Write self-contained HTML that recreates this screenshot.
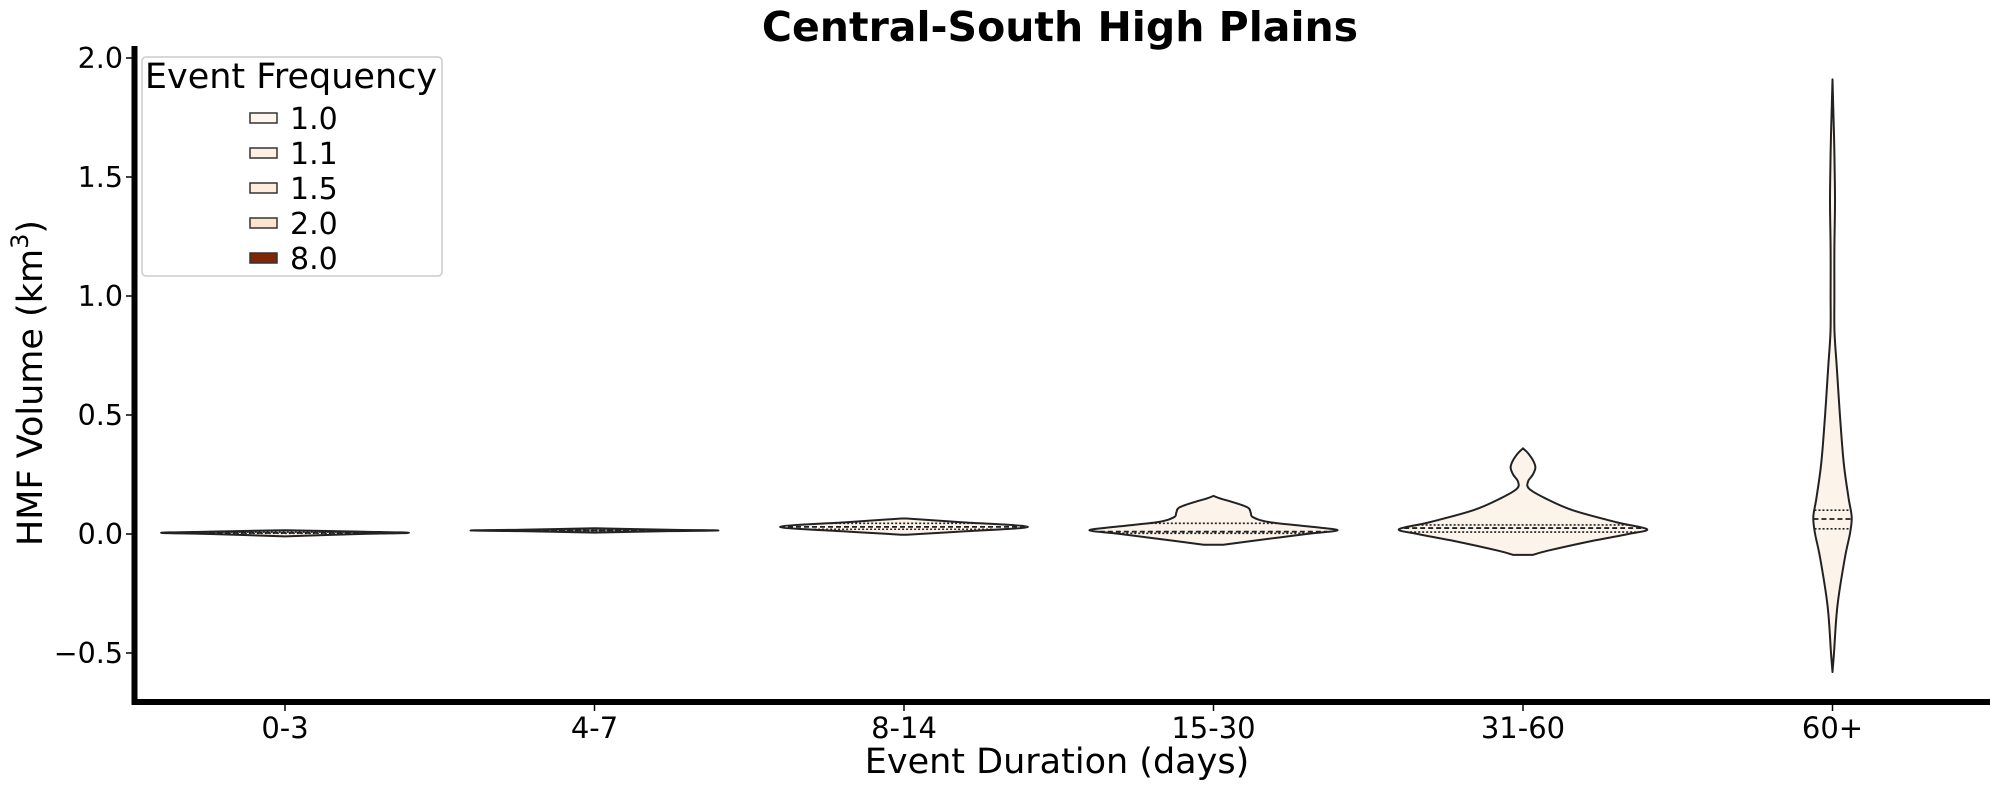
<!DOCTYPE html>
<html><head><meta charset="utf-8"><style>
html,body{margin:0;padding:0;background:#fff;}
svg{display:block;font-family:"DejaVu Sans","Liberation Sans",sans-serif;}
</style></head><body>
<svg id="chart" width="1990" height="789" viewBox="0 0 1990 789">
<text x="1060" y="41" text-anchor="middle" font-size="41" font-weight="bold">Central-South High Plains</text>
<g id="plot"></g>
<text x="1057" y="773" text-anchor="middle" font-size="35">Event Duration (days)</text>
<text transform="translate(42,383) rotate(-90)" text-anchor="middle" font-size="35">HMF Volume (km<tspan font-size="24" dy="-14">3</tspan><tspan dy="14">)</tspan></text>
<g>
<rect x="142" y="57" width="300" height="219" rx="4" fill="#fff" fill-opacity="0.8" stroke="#ccc" stroke-width="1.5"/>
<text x="291" y="88" text-anchor="middle" font-size="35">Event Frequency</text>
<g id="legendItems"></g>
</g>
</svg>
<script>
const categories = ["0-3","4-7","8-14","15-30","31-60","60+"];
const yTicks = [2.0,1.5,1.0,0.5,0.0,-0.5];
const yTickLabels = ["2.0","1.5","1.0","0.5","0.0","\u22120.5"];
// violin profiles: y values and relative half-widths (1 = full width)
const v0y = [-0.01,0.0,0.005,0.01,0.016];
const v0w = [0,0.6,1,0.6,0];
const v1y = [0.006,0.012,0.015,0.018,0.024];
const v1w = [0,0.6,1,0.6,0];
const v2y = [-0.003,0.01,0.03,0.05,0.065];
const v2w = [0.02,0.45,1,0.45,0.02];
const v3y = [-0.045,-0.03,0.0,0.015,0.03,0.05,0.07,0.09,0.11,0.13,0.15,0.16];
const v3w = [0.08,0.3,0.75,1,0.8,0.45,0.32,0.3,0.28,0.18,0.05,0];
const v4y = [-0.088,-0.07,-0.03,0.0,0.02,0.05,0.1,0.15,0.19,0.22,0.25,0.28,0.31,0.34,0.36];
const v4w = [0.08,0.2,0.55,0.85,1,0.75,0.4,0.18,0.05,0.04,0.08,0.1,0.08,0.04,0];
const v5y = [-0.58,-0.5,-0.3,-0.1,0.0,0.07,0.15,0.3,0.5,0.7,0.85,1.0,1.2,1.4,1.6,1.8,1.91];
const v5w = [0,0.012,0.04,0.1,0.14,0.155,0.13,0.09,0.06,0.035,0.016,0.015,0.015,0.02,0.015,0.006,0];
const q1 = [0.003,0.013,0.02,0.003,0.008,0.022];
const medians = [0.005,0.015,0.03,0.01,0.025,0.063];
const q3 = [0.008,0.017,0.045,0.045,0.038,0.10];
const legendLabels = ["1.0","1.1","1.5","2.0","8.0"];
const legendColors = ["#fef5ec","#fef1e4","#feecdc","#fde4d0","#7f2704"];

const NS="http://www.w3.org/2000/svg";
const plot=document.getElementById('plot');
const X0=285, DX=309.5, Y0=534, PXU=238, HW=124;
const xScale=i=>X0+i*DX;
const yScale=v=>Y0-v*PXU;
function mk(tag,attrs,parent){const e=document.createElementNS(NS,tag);for(const k in attrs)e.setAttribute(k,attrs[k]);(parent||plot).appendChild(e);return e;}
const profY=[v0y,v1y,v2y,v3y,v4y,v5y], profW=[v0w,v1w,v2w,v3w,v4w,v5w];
function widthAt(i,v){const ys=profY[i],ws=profW[i];if(v<=ys[0]||v>=ys[ys.length-1])return 0;for(let k=1;k<ys.length;k++){if(v<=ys[k]){const t=(v-ys[k-1])/(ys[k]-ys[k-1]);return ws[k-1]+t*(ws[k]-ws[k-1]);}}return 0;}
function smooth(pts){
  let d="M"+pts[0][0].toFixed(1)+","+pts[0][1].toFixed(1);
  for(let k=0;k<pts.length-1;k++){
    const p0=pts[Math.max(k-1,0)],p1=pts[k],p2=pts[k+1],p3=pts[Math.min(k+2,pts.length-1)];
    const c1=[p1[0]+(p2[0]-p0[0])/6,p1[1]+(p2[1]-p0[1])/6];
    const c2=[p2[0]-(p3[0]-p1[0])/6,p2[1]-(p3[1]-p1[1])/6];
    d+="C"+c1[0].toFixed(1)+","+c1[1].toFixed(1)+" "+c2[0].toFixed(1)+","+c2[1].toFixed(1)+" "+p2[0].toFixed(1)+","+p2[1].toFixed(1);
  }
  return d;
}
categories.forEach((c,i)=>{
  const cx=xScale(i), ys=profY[i], ws=profW[i];
  const right=ys.map((v,k)=>[cx+ws[k]*HW,yScale(v)]);
  const left=ys.map((v,k)=>[cx-ws[k]*HW,yScale(v)]).reverse();
  let d=smooth(right)+"L"+smooth(left).slice(1)+"Z";
  const p=mk('path',{d:d,fill:"#fcf3ea",stroke:"#222","stroke-width":2,"stroke-linejoin":"round"});
  
  
  [[q1[i],"2,2",1.6],[medians[i],"5,3",1.8],[q3[i],"2,2",1.6]].forEach(([v,da,sw],j)=>{
    const w=widthAt(i,v)*HW;
    const l=mk('line',{x1:cx-w,x2:cx+w,y1:yScale(v),y2:yScale(v),stroke:"#222","stroke-width":sw,"stroke-dasharray":da});
    
    
  });
  const t=mk('line',{x1:cx,x2:cx,y1:705,y2:711,stroke:"#000","stroke-width":1.5});
  
  
  const tl=mk('text',{x:cx,y:738,"text-anchor":"middle","font-size":29});
  tl.textContent=c;
  
  
});
yTicks.forEach((v,i)=>{
  const t=mk('line',{x1:126,x2:132,y1:yScale(v),y2:yScale(v),stroke:"#000","stroke-width":1.5});
  
  
  const tl=mk('text',{x:123,y:yScale(v)+10,"text-anchor":"end","font-size":28.5});
  tl.textContent=yTickLabels[i];
  
  
});
const ax=mk('line',{x1:134.5,x2:134.5,y1:46,y2:705,stroke:"#000","stroke-width":6});


const bx=mk('line',{x1:131.5,x2:1990,y1:702,y2:702,stroke:"#000","stroke-width":6});


const lg=document.getElementById('legendItems');
legendLabels.forEach((lab,i)=>{
  const cy=118+i*35;
  const r=mk('rect',{x:250,y:cy-5,width:27,height:10,fill:legendColors[i],stroke:"#333","stroke-width":1.5},lg);
  
  
  const t=mk('text',{x:290,y:cy+11,"font-size":30},lg);
  t.textContent=lab;
  
  
});
</script>
</body></html>
